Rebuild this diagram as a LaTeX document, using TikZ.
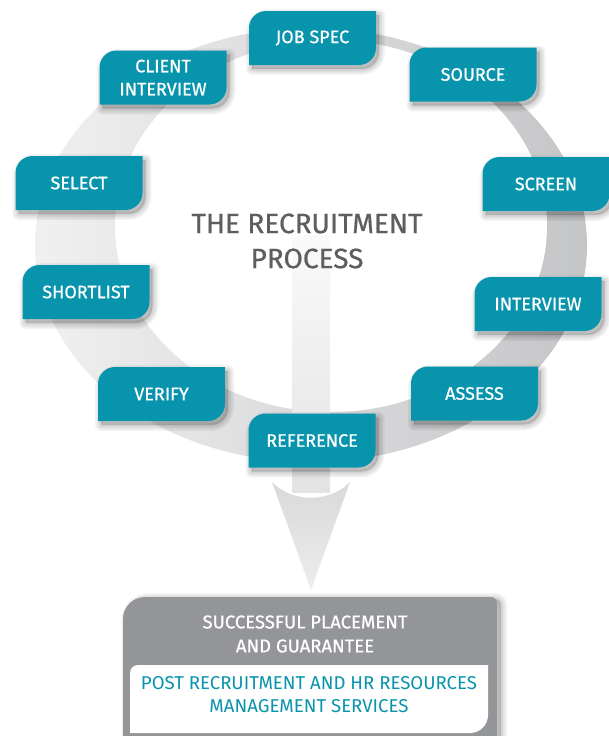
\documentclass[tikz,border=0pt]{standalone}
\usepackage{fontspec}
\setmainfont{Fira Sans}
\newfontfamily\labelfont{Fira Sans}[FakeBold=0.7]
\usetikzlibrary{calc}
\definecolor{stepteal}{HTML}{0894AC}
\definecolor{titlegray}{HTML}{5D5E60}
\definecolor{panelgray}{HTML}{939598}
\definecolor{ringlight}{HTML}{F0F0F1}
\definecolor{ringdark}{HTML}{C4C5C7}
\pgfdeclarelayer{back}
\pgfdeclarelayer{mid}
\pgfsetlayers{back,mid,main}
\begin{document}
\begin{tikzpicture}[x=1pt,y=1pt,
  stepbox/.style={minimum width=127pt, minimum height=54pt, inner sep=0pt,
    text=white, align=center, font=\labelfont\fontsize{18}{23}\selectfont},
  tileshape/.style={insert path={(-63.5,-27) -- (-63.5,10)
    arc[start angle=180, end angle=90, radius=17pt] -- (63.5,27) -- (63.5,-10)
    arc[start angle=0, end angle=-90, radius=17pt] -- cycle}},
  softshadow/.style={draw=black, fill=black, opacity=0.045, line join=round, line width=#1},
  paneltext/.style={align=center}]
\useasboundingbox (0,0) rectangle (608,-736);

% process steps around the ring
\node[stepbox] (job)       at (312.5,-38)  {JOB SPEC};
\node[stepbox] (source)    at (473,-74.5)  {SOURCE};
\node[stepbox] (client)    at (163,-77.5)  {CLIENT\\INTERVIEW};
\node[stepbox] (select)    at (79,-183)    {SELECT};
\node[stepbox] (screen)    at (546,-184)   {SCREEN};
\node[stepbox] (shortlist) at (86,-292)    {SHORTLIST};
\node[stepbox] (interview) at (538,-304)   {INTERVIEW};
\node[stepbox] (verify)    at (161.5,-394) {VERIFY};
\node[stepbox] (assess)    at (474.5,-393.5) {ASSESS};
\node[stepbox] (reference) at (312,-440.5) {REFERENCE};

% title in the middle of the ring
\node[align=center, text=titlegray, font=\labelfont\fontsize{28}{35}\selectfont]
  (title) at (307,-241) {THE RECRUITMENT\\PROCESS};

% outcome panel
\node[paneltext, text=white, font=\labelfont\fontsize{18.5}{24}\selectfont]
  (placement) at (305,-634) {SUCCESSFUL PLACEMENT\\AND GUARANTEE};
\node[paneltext, text=stepteal, font=\fontsize{18.6}{23}\selectfont]
  (services) at (309,-695) {POST RECRUITMENT AND HR RESOURCES\\MANAGEMENT SERVICES};

\begin{pgfonlayer}{back}
  % ring: shaded outer ellipse with the inner ellipse cut out in white
  \shade[left color=ringlight, right color=ringdark]
    (311,-245) ellipse [x radius=276pt, y radius=217pt];
  \fill[white] (331,-226) ellipse [x radius=216pt, y radius=186pt];
  % downward arrow
  \shade[top color=white!96!gray, bottom color=gray!22]
    (292,-235) rectangle (330,-492);
  \shade[top color=gray!30, bottom color=gray!14]
    (272,-482) .. controls (292,-503) and (330,-503) .. (350,-482)
    -- (311,-590) -- cycle;
\end{pgfonlayer}

\begin{pgfonlayer}{mid}
  \foreach \n in {job,source,client,select,screen,shortlist,interview,verify,assess,reference}{
    \foreach \w in {12,9,6,3}{
      \path[softshadow=\w pt, shift={($(\n)+(3,-4)$)}, tileshape];
    }
    \fill[stepteal, shift={(\n)}, tileshape];
  }
  % outcome panel background with its shadow
  \foreach \w in {12,9,6,3}{
    \path[softshadow=\w pt, shift={(4,-2)}]
      (123,-750) -- (123,-619) arc[start angle=180, end angle=90, radius=22pt]
      -- (491,-597) arc[start angle=90, end angle=0, radius=6pt] -- (497,-750) -- cycle;
  }
  \fill[panelgray]
    (123,-750) -- (123,-619) arc[start angle=180, end angle=90, radius=22pt]
    -- (491,-597) arc[start angle=90, end angle=0, radius=6pt] -- (497,-750) -- cycle;
  \fill[white] (130,-733) -- (130,-673) arc[start angle=180, end angle=90, radius=8pt]
    -- (488,-665) -- (488,-715) arc[start angle=0, end angle=-90, radius=18pt] -- cycle;
\end{pgfonlayer}
\end{tikzpicture}
\end{document}
